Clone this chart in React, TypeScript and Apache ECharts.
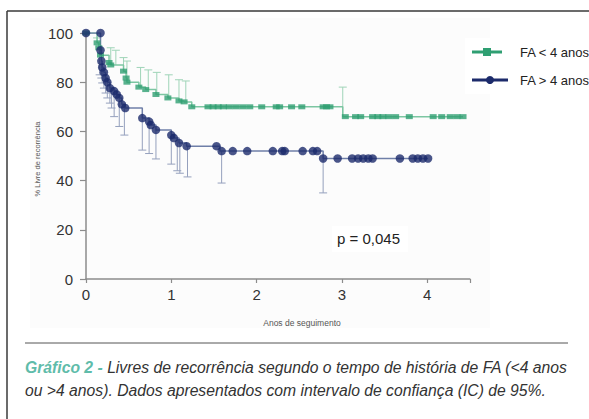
import React, { useEffect, useRef } from "react";
import * as echarts from "echarts";

// Kaplan-Meier steps [years, % free of recurrence]
const greenKM: number[][] = [
  [0, 100], [0.13, 96], [0.15, 94], [0.17, 91], [0.27, 88], [0.29, 87], [0.44, 84.5], [0.47, 81.7],
  [0.48, 80], [0.62, 78], [0.7, 77], [0.82, 75], [0.96, 73.6], [1.09, 72.4], [1.15, 72], [1.24, 70],
  [3.01, 66], [4.42, 66],
];
const blueKM: number[][] = [
  [0, 100], [0.17, 93], [0.18, 88.6], [0.19, 86], [0.21, 84], [0.23, 81.7], [0.25, 80], [0.28, 77.6],
  [0.33, 76.4], [0.36, 75], [0.39, 73.6], [0.42, 71], [0.46, 69.5], [0.66, 65.4], [0.74, 64], [0.76, 62.6],
  [0.82, 60.6], [1.0, 58.5], [1.03, 57.3], [1.09, 55.3], [1.18, 54], [1.57, 52], [2.78, 49], [4.01, 49],
];
// censor / point markers
const greenMarks: number[][] = [
  [0, 100], [0.13, 96], [0.15, 94], [0.17, 91], [0.27, 88], [0.29, 87], [0.44, 84.5], [0.47, 81.7],
  [0.48, 80], [0.62, 78], [0.7, 77], [0.82, 75], [0.96, 73.6], [1.09, 72.4], [1.15, 72], [1.24, 70],
  [1.43, 70], [1.49, 70], [1.55, 70], [1.61, 70], [1.68, 70], [1.76, 70], [1.84, 70], [1.92, 70],
  [2.06, 70], [2.23, 70], [2.27, 70], [2.41, 70], [2.53, 70], [2.78, 70], [2.82, 70], [2.86, 70],
  [3.04, 66], [3.16, 66], [3.22, 66], [3.36, 66], [3.42, 66], [3.48, 66], [3.55, 66], [3.63, 66],
  [3.79, 66], [4.07, 66], [4.17, 66], [4.27, 66], [4.35, 66], [4.42, 66],
];
const blueMarks: number[][] = [
  [0, 100], [0.17, 100], [0.17, 93], [0.18, 88.6], [0.19, 86], [0.21, 84], [0.23, 81.7], [0.25, 80],
  [0.28, 77.6], [0.33, 76.4], [0.36, 75], [0.39, 73.6], [0.42, 71], [0.46, 69.5], [0.66, 65.4], [0.74, 64],
  [0.76, 62.6], [0.82, 60.6], [1.0, 58.5], [1.03, 57.3], [1.09, 55.3], [1.18, 54], [1.53, 54], [1.59, 52],
  [1.72, 52], [1.89, 52], [2.19, 52], [2.3, 52], [2.33, 52], [2.54, 52], [2.66, 52], [2.71, 52],
  [2.78, 49], [2.95, 49], [3.12, 49], [3.19, 49], [3.25, 49], [3.31, 49], [3.36, 49], [3.68, 49],
  [3.83, 49], [3.89, 49], [3.95, 49], [4.01, 49],
];
// 95% CI bars [years, value, bound]
const greenCI: number[][] = [
  [0.13, 96, 98], [0.29, 87, 94], [0.35, 87, 93], [0.44, 84.5, 90], [0.48, 80, 88.6], [0.64, 78, 86],
  [0.73, 77, 85], [0.83, 75, 84], [0.97, 73.6, 83], [1.09, 72.4, 81], [1.17, 72, 80.5], [3.01, 66, 78],
];
const blueCI: number[][] = [
  [0.16, 93, 83], [0.18, 88.6, 81.7], [0.19, 86, 79.7], [0.21, 84, 77.6], [0.23, 81.7, 75.6],
  [0.25, 80, 73.6], [0.28, 77.6, 71.5], [0.3, 77.6, 69.5], [0.33, 76.4, 66], [0.39, 73.6, 62],
  [0.45, 71, 58.5], [0.66, 65.4, 52.4], [0.74, 64, 51], [0.82, 60.6, 48.8], [1.0, 58.5, 46.7],
  [1.07, 57.3, 44], [1.1, 55.3, 43], [1.19, 54, 41.5], [1.59, 52, 39], [2.78, 49, 35],
];
const seriesNames = ["FA < 4 anos", "FA > 4 anos"];
const xTicks = [0, 1, 2, 3, 4];
const yTicks = [0, 20, 40, 60, 80, 100];
const captionLabel = "Gráfico 2 -";
const captionLine1 = "Livres de recorrência segundo o tempo de história de FA (<4 anos";
const captionLine2 = "ou >4 anos). Dados apresentados com intervalo de confiança (IC) de 95%.";

const GREEN = "#2f9f72";
const GREEN_LINE = "#7cc6a2";
const GREEN_CI = "#9fd4b8";
const BLUE = "#1c2b6b";
const BLUE_LINE = "#6f7fa8";
const BLUE_CI = "#95a0bd";

function ciRender(color: string) {
  return (params: any, api: any) => {
    const x = api.value(0);
    const p1 = api.coord([x, api.value(1)]);
    const p2 = api.coord([x, api.value(2)]);
    return {
      type: "group",
      children: [
        { type: "line", shape: { x1: p1[0], y1: p1[1], x2: p2[0], y2: p2[1] }, style: { stroke: color, lineWidth: 1 } },
        { type: "line", shape: { x1: p2[0] - 4, y1: p2[1], x2: p2[0] + 4, y2: p2[1] }, style: { stroke: color, lineWidth: 1 } },
      ],
    };
  };
}

export default function App() {
  const ref = useRef<HTMLDivElement>(null);
  useEffect(() => {
    const chart = echarts.init(ref.current!, null, { renderer: "svg" });
    const font = "'Liberation Sans', Arial, sans-serif";
    const axisColor = "#8c8c8c";
    const capFont = "'Liberation Sans', Arial, sans-serif";
    chart.setOption({
      animation: false,
      backgroundColor: "#ffffff",
      grid: { left: 86, top: 33, width: 383.85, height: 246 },
      xAxis: {
        type: "value", min: 0, max: 4.5, interval: 1,
        axisLine: { lineStyle: { color: axisColor, width: 1.5 } },
        axisTick: { show: true, length: 4, lineStyle: { color: axisColor, width: 1.2 } },
        axisLabel: {
          margin: 8, fontSize: 15, color: "#333", fontFamily: font,
          formatter: (v: number) => (xTicks.includes(v) ? String(v) : ""),
        },
        splitLine: { show: false },
      },
      yAxis: {
        type: "value", min: 0, max: 100, interval: 20,
        axisLine: { show: true, lineStyle: { color: axisColor, width: 1.5 } },
        axisTick: { show: true, length: 6, lineStyle: { color: axisColor, width: 1.2 } },
        axisLabel: {
          margin: 13, fontSize: 15, color: "#333", fontFamily: font,
          formatter: (v: number) => (yTicks.includes(v) ? String(v) : ""),
        },
        splitLine: { show: false },
      },
      graphic: [
        { type: "rect", z: -10, shape: { x: 30, y: 18, width: 460, height: 310 }, style: { fill: "#fcfcfc" }, silent: true },
        { type: "rect", z: -9, shape: { x: 465, y: 38, width: 124, height: 56 }, style: { fill: "#ffffff" }, silent: true },
        { type: "rect", z: -9, shape: { x: 332, y: 226, width: 76, height: 26 }, style: { fill: "#ffffff" }, silent: true },
        { type: "line", shape: { x1: 7, y1: 11, x2: 589, y2: 11 }, style: { stroke: "#3a3a3a", lineWidth: 1.5 } },
        { type: "line", shape: { x1: 7, y1: 11, x2: 7, y2: 419 }, style: { stroke: "#3a3a3a", lineWidth: 1.5 } },
        { type: "line", shape: { x1: 25, y1: 343, x2: 568, y2: 343 }, style: { stroke: "#555", lineWidth: 1 } },
        // legend
        { type: "line", shape: { x1: 472, y1: 52, x2: 502, y2: 52 }, style: { stroke: GREEN, lineWidth: 3 } },
        { type: "rect", shape: { x: 483, y: 48, width: 8, height: 8 }, style: { fill: GREEN } },
        { type: "text", x: 520, y: 52, style: { text: seriesNames[0], fontSize: 13, fill: "#222", fontFamily: font, verticalAlign: "middle" } },
        { type: "line", shape: { x1: 472, y1: 80, x2: 508, y2: 80 }, style: { stroke: BLUE, lineWidth: 3 } },
        { type: "circle", shape: { cx: 490, cy: 80, r: 4 }, style: { fill: BLUE } },
        { type: "text", x: 520, y: 80, style: { text: seriesNames[1], fontSize: 13, fill: "#222", fontFamily: font, verticalAlign: "middle" } },
        // p-value
        { type: "text", x: 337, y: 238, style: { text: "p = 0,045", fontSize: 15, fill: "#222", fontFamily: font, verticalAlign: "middle" } },
        // axis names
        { type: "text", x: 37, y: 159, rotation: Math.PI / 2, style: { text: "% Livre de recorrência", fontSize: 7.5, fill: "#555", fontFamily: font, align: "center", verticalAlign: "middle" } },
        { type: "text", x: 302, y: 323, style: { text: "Anos de seguimento", fontSize: 8.5, fill: "#555", fontFamily: font, align: "center", verticalAlign: "middle" } },
        // caption
        {
          type: "text", x: 25, y: 367, scaleX: 0.925,
          style: {
            text: "{a|" + captionLabel + "} {b|" + captionLine1 + "}",
            verticalAlign: "middle",
            rich: {
              a: { fontSize: 17, fontStyle: "italic", fontWeight: "bold", fill: "#5fbcaa", color: "#5fbcaa", fontFamily: capFont },
              b: { fontSize: 17, fontStyle: "italic", fill: "#333", color: "#333", fontFamily: capFont },
            },
            fontSize: 17, fontStyle: "italic", fontFamily: capFont, fill: "#333",
          },
        },
        {
          type: "text", x: 25, y: 390, scaleX: 0.925,
          style: {
            text: captionLine2,
            verticalAlign: "middle", fontSize: 17, fontStyle: "italic", fill: "#333", fontFamily: capFont,
          },
        },
      ],
      series: [
        { type: "custom", name: "ci-green", data: greenCI, encode: { x: 0, y: [1, 2] }, renderItem: ciRender(GREEN_CI), z: 1 },
        { type: "custom", name: "ci-blue", data: blueCI, encode: { x: 0, y: [1, 2] }, renderItem: ciRender(BLUE_CI), z: 1 },
        { type: "line", name: seriesNames[0], data: greenKM, step: "end", symbol: "none", lineStyle: { color: GREEN_LINE, width: 1.5 }, z: 2 },
        { type: "line", name: seriesNames[1], data: blueKM, step: "end", symbol: "none", lineStyle: { color: BLUE_LINE, width: 1.5 }, z: 2 },
        { type: "scatter", name: "m-green", data: greenMarks, symbol: "rect", symbolSize: [7, 5], itemStyle: { color: GREEN }, z: 3 },
        { type: "scatter", name: "m-blue", data: blueMarks, symbol: "circle", symbolSize: 8.5, itemStyle: { color: BLUE }, z: 4 },
      ],
    });
    return () => chart.dispose();
  }, []);
  return <div ref={ref} style={{ position: "fixed", left: 0, top: 0, width: 589, height: 419 }} />;
}
